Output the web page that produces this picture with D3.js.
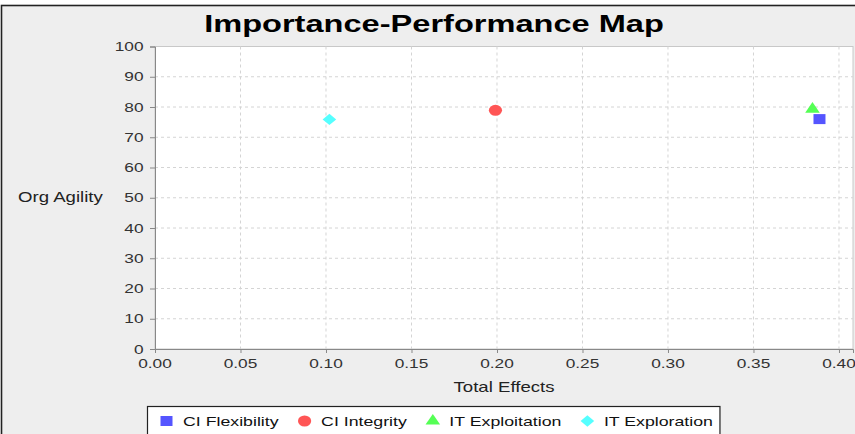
<!DOCTYPE html>
<meta charset="utf-8">
<head>
    <title>Importance-Performance Map</title>
    <style>
        body { margin: 0; background: #fff; }
        text { font-family: "Liberation Sans", Arial, sans-serif; }
    </style>
</head>
<body>
    <script src="https://cdn.jsdelivr.net/npm/d3@7"></script>
    <svg id="chart"></svg>

    <script>
        // data
        var seriesNames = ["CI Flexibility", "CI Integrity", "IT Exploitation", "IT Exploration"];
        var totalEffects = [0.3886, 0.1991, 0.3845, 0.1020];
        var orgAgility = [76.0, 78.9, 79.3, 75.9];
        var seriesColors = ["#5555ff", "#ff5555", "#55ff55", "#55ffff"];
        var xTicks = [0.00, 0.05, 0.10, 0.15, 0.20, 0.25, 0.30, 0.35, 0.40];
        var yTicks = [0, 10, 20, 30, 40, 50, 60, 70, 80, 90, 100];

        var W = 855, H = 434;
        var sx = 1.33;   // picture is stretched sideways, text too
        var plot = { left: 155, top: 46.5, right: 853, bottom: 349 };

        var svg = d3.select("#chart").attr("width", W).attr("height", H);

        // outer frame (cut by the picture edges on right and bottom)
        svg.append("rect")
            .attr("x", 1.5).attr("y", 5.5)
            .attr("width", W + 10).attr("height", H + 10)
            .attr("fill", "#eeeeee")
            .attr("stroke", "#222").attr("stroke-width", 1.6);

        var x = d3.scaleLinear().domain([0, 0.4082]).range([plot.left, plot.right]);
        var y = d3.scaleLinear().domain([0, 100]).range([plot.bottom, plot.top]);

        // helper for sideways-stretched text
        function stext(g, tx, ty, str, size, anchor, weight, fill) {
            return g.append("text")
                .attr("transform", "translate(" + tx + "," + ty + ") scale(" + sx + ",1)")
                .attr("text-anchor", anchor || "start")
                .style("font-size", size + "px")
                .style("font-weight", weight || "normal")
                .attr("fill", fill || "#222")
                .text(str);
        }

        // plot background
        svg.append("rect")
            .attr("x", plot.left).attr("y", plot.top)
            .attr("width", plot.right - plot.left).attr("height", plot.bottom - plot.top)
            .attr("fill", "#fff").attr("stroke", "#c8c8c8").attr("stroke-width", 1);

        // grid
        var grid = svg.append("g").attr("stroke", "#d4d4d4").attr("stroke-dasharray", "3,3");
        grid.selectAll(".gx").data(xTicks.slice(1)).enter().append("line")
            .attr("x1", d => x(d)).attr("x2", d => x(d))
            .attr("y1", plot.top).attr("y2", plot.bottom);
        grid.selectAll(".gy").data(yTicks.slice(1, -1)).enter().append("line")
            .attr("x1", plot.left).attr("x2", plot.right)
            .attr("y1", d => y(d)).attr("y2", d => y(d));

        // axes
        var xAxis = svg.append("g")
            .attr("transform", "translate(0," + plot.bottom + ")")
            .call(d3.axisBottom(x).tickValues(xTicks).tickSize(4).tickFormat(""));
        var yAxis = svg.append("g")
            .attr("transform", "translate(" + plot.left + ",0)")
            .call(d3.axisLeft(y).tickValues(yTicks).tickSize(5).tickFormat(""));
        [xAxis, yAxis].forEach(function(a) {
            a.select(".domain").attr("stroke", "#888");
            a.selectAll(".tick line").attr("stroke", "#888");
        });

        var labels = svg.append("g");
        xTicks.forEach(function(t) {
            stext(labels, x(t), 368, d3.format(".2f")(t), 13, "middle", "normal", "#333");
        });
        yTicks.forEach(function(t) {
            stext(labels, 143.5, y(t) + 4.6, t, 13, "end", "normal", "#333");
        });

        // titles
        stext(svg, 434, 32, "Importance-Performance Map", 24.5, "middle", "bold", "#000");
        stext(svg, 504, 392, "Total Effects", 14, "middle");
        stext(svg, 18, 202, "Org Agility", 14, "start");

        // marker shapes
        var diamond = {
            draw: function(ctx, size) {
                var r = Math.sqrt(size / 2);
                ctx.moveTo(0, -r); ctx.lineTo(r, 0); ctx.lineTo(0, r); ctx.lineTo(-r, 0); ctx.closePath();
            }
        };
        var shapes = [d3.symbolSquare, d3.symbolCircle, d3.symbolTriangle, diamond];
        var sizes = [100, 95, 64, 64];
        var markerScale = 1.2;

        function marker(g, i, cx, cy) {
            g.append("path")
                .attr("d", d3.symbol().type(shapes[i]).size(sizes[i])())
                .attr("transform", "translate(" + cx + "," + cy + ") scale(" + markerScale + ",1)")
                .attr("fill", seriesColors[i]);
        }

        var points = svg.append("g");
        seriesNames.forEach(function(n, i) {
            marker(points, i, x(totalEffects[i]), y(orgAgility[i]));
        });

        // legend
        var legend = svg.append("g");
        var legendBox = legend.append("rect")
            .attr("x", 147.5).attr("y", 406.5)
            .attr("height", 40)
            .attr("fill", "#fff").attr("stroke", "#222").attr("stroke-width", 1.2);
        var cx = 166.5;
        var endX = cx;
        seriesNames.forEach(function(n, i) {
            marker(legend, i, cx, 421);
            var t = stext(legend, cx + 16.5, 426, n, 13.35, "start", "normal", "#111");
            var w = t.node().getComputedTextLength() * sx;
            endX = cx + 16.5 + w;
            cx = endX + 26;
        });
        legendBox.attr("width", endX + 7 - 147.5);
    </script>
</body>
</html>
